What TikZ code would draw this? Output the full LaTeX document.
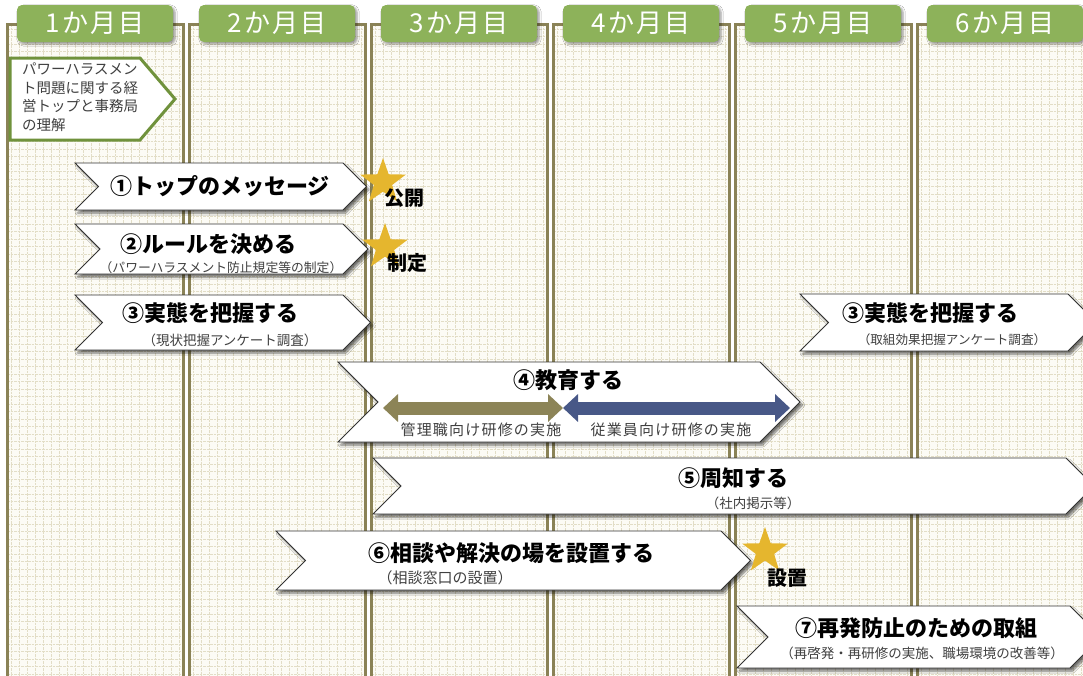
\documentclass[tikz,border=0pt]{standalone}
\usepackage{fontspec}
\setmainfont{Noto Sans CJK JP}
\usetikzlibrary{shapes.geometric,shadows.blur,arrows.meta}
\definecolor{colborder}{RGB}{138,130,86}
\definecolor{colbg}{RGB}{252,251,245}
\definecolor{gridc}{RGB}{226,221,198}
\definecolor{tabgreen}{RGB}{141,178,90}
\definecolor{notegreen}{RGB}{112,146,60}
\definecolor{arrolive}{RGB}{140,132,87}
\definecolor{arrblue}{RGB}{72,88,135}
\definecolor{stargold}{RGB}{229,182,46}
\tikzset{
  chev/.style={fill=white, draw=black!80, line width=0.9pt,
    blur shadow={shadow xshift=2.5pt, shadow yshift=-3pt, shadow blur steps=6, shadow opacity=55}},
  ttl/.style={font=\bfseries\fontsize{22}{26}\selectfont, inner sep=0pt, text=black},
  sub/.style={font=\fontsize{13.5}{15}\selectfont, inner sep=0pt, text=black!75},
  tab/.style={fill=tabgreen, rounded corners=5pt, minimum width=156pt, minimum height=37pt,
    text=white, inner sep=0pt, font=\fontsize{26}{28}\selectfont\addfontfeatures{LetterSpace=8},
    blur shadow={shadow xshift=2pt, shadow yshift=-2pt, shadow blur steps=5, shadow opacity=40}},
  gline/.style={draw=gridc, line width=0.6pt, dash pattern=on 2.5pt off 1pt},
  starry/.style={star, star points=5, star point ratio=2.5, fill=stargold, minimum size=48pt, inner sep=0pt},
  marklbl/.style={font=\bfseries\fontsize{20}{22}\selectfont, inner sep=0pt},
  edu/.style={font=\fontsize{15}{17}\selectfont\addfontfeatures{LetterSpace=8}, inner sep=0pt, text=black!75},
  dbl/.style={line width=13pt, {Triangle[length=15pt,width=27pt]}-{Triangle[length=15pt,width=27pt]}}
}
\newcommand\chevshape[4]{%
  \pgfmathsetmacro\hh{(#4-#3)/2}%
  \pgfmathsetmacro\ym{(#4+#3)/2}%
  \path[chev] (#1,#3) -- (#2,#3) -- ({#2+\hh},\ym) -- (#2,#4) -- (#1,#4) -- ({#1+\hh},\ym) -- cycle;%
}
\begin{document}
\begin{tikzpicture}[x=1pt,y=-1pt]
\useasboundingbox (0,0) rectangle (1083,675);
\clip (0,0) rectangle (1083,675);
\fill[white] (0,0) rectangle (1083,675);
% columns
\foreach \i in {0,...,5}{
  \pgfmathsetmacro\xl{7+182*\i}
  \pgfmathsetmacro\xr{\xl+176}
  \begin{scope}
    \clip (\xl,24) rectangle (\xr,690);
    \fill[colbg] (\xl,24) rectangle (\xr,690);
    \foreach \yy in {29,36.5,...,690} \draw[gline] (\xl,\yy) -- (\xr,\yy);
    \foreach \xx in {4,12,...,176} \draw[gline] (\xl+\xx,24) -- (\xl+\xx,690);
  \end{scope}
  \draw[colborder, line width=3pt] (\xl,24) rectangle (\xr,700);
}
% tabs
\node[tab] (t1) at (95,23.5) {1か月目};
\node[tab] (t2) at (277,23.5) {2か月目};
\node[tab] (t3) at (459,23.5) {3か月目};
\node[tab] (t4) at (641,23.5) {4か月目};
\node[tab] (t5) at (823,23.5) {5か月目};
\node[tab] (t6) at (1005,23.5) {6か月目};
% note
\path[fill=white, draw=notegreen, line width=3pt] (10,58) -- (140,58) -- (175,99) -- (140,140) -- (10,140) -- cycle;
\node[anchor=north west, align=left, inner sep=0pt, text=black!75,
  font=\fontsize{14.5}{18.5}\selectfont] (note) at (22,63)
  {パワーハラスメン\\ト問題に関する経\\営トップと事務局\\の理解};
% chevrons
\chevshape{75}{343}{163}{210}
\chevshape{75}{343}{224}{274}
\chevshape{75}{343}{295}{350}
\chevshape{800}{1068}{294}{351}
\chevshape{338}{760}{362}{442}
\chevshape{373}{1066}{458}{514}
\chevshape{276}{721}{531}{590}
\chevshape{737}{1070}{606}{668}
% texts
\node[ttl] (c1) at (220,186) {①トップのメッセージ};
\node[ttl] (c2) at (208,244) {②ルールを決める};
\node[sub, font=\fontsize{12.8}{14}\selectfont] (c2s) at (221,268) {（パワーハラスメント防止規定等の制定）};
\node[ttl] (c3) at (210,313) {③実態を把握する};
\node[sub] (c3s) at (230,340) {（現状把握アンケート調査）};
\node[ttl] (c3r) at (930,313) {③実態を把握する};
\node[sub, font=\fontsize{12.6}{14}\selectfont] (c3rs) at (952,340) {（取組効果把握アンケート調査）};
\node[ttl] (c4) at (568,380) {④教育する};
\coordinate (a1) at (383,408);
\coordinate (a2) at (563,408);
\coordinate (a3) at (790,408);
\draw[dbl, arrolive] (a1) -- (a2);
\draw[dbl, arrblue] (a2) -- (a3);
\node[edu] (e1) at (481,430) {管理職向け研修の実施};
\node[edu] (e2) at (671,430) {従業員向け研修の実施};
\node[ttl] (c5) at (733,478) {⑤周知する};
\node[sub] (c5s) at (753,503) {（社内掲示等）};
\node[ttl] (c6) at (511,553) {⑥相談や解決の場を設置する};
\node[sub, font=\fontsize{15}{17}\selectfont] (c6s) at (445,578) {（相談窓口の設置）};
\node[ttl] (c7) at (916,628) {⑦再発防止のための取組};
\node[sub] (c7s) at (922,653) {（再啓発・再研修の実施、職場環境の改善等）};
% stars
\node[starry] (s1) at (383,182) {};
\node[marklbl] (m1) at (404,198) {公開};
\node[starry] (s2) at (385,247) {};
\node[marklbl] (m2) at (407,263) {制定};
\node[starry] (s3) at (765,551) {};
\node[marklbl] (m3) at (787,578) {設置};
\end{tikzpicture}
\end{document}
